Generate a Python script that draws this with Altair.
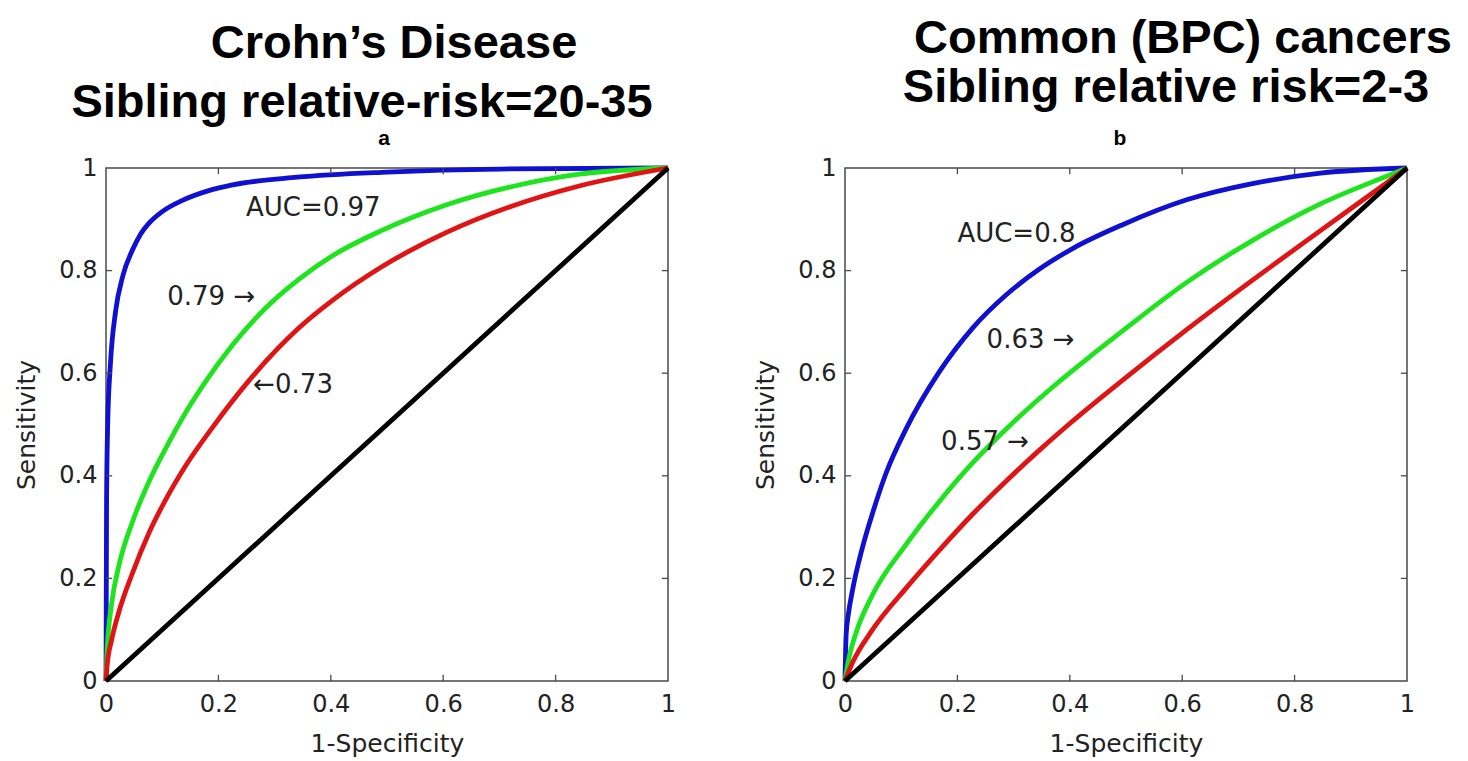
import altair as alt
import pandas as pd

TITLE_FONT = "Liberation Sans"
TEXT_FONT = "DejaVu Sans"

# ---- Panel a: Crohn's disease ----
a_blue_fpr = [0, 0.001, 0.003, 0.008, 0.017, 0.03, 0.047, 0.062, 0.077, 0.1, 0.136, 0.18, 0.225, 0.34, 0.5, 0.7, 1.0]
a_blue_tpr = [0, 0.35, 0.5, 0.62, 0.72, 0.79, 0.84, 0.872, 0.893, 0.915, 0.937, 0.955, 0.967, 0.982, 0.992, 0.998, 1.0]

a_green_fpr = [0, 0.002, 0.01, 0.023, 0.047, 0.077, 0.107, 0.14, 0.175, 0.225, 0.284, 0.343, 0.403, 0.49, 0.605, 0.723, 0.842, 1.0]
a_green_tpr = [0, 0.06, 0.15, 0.225, 0.31, 0.39, 0.455, 0.52, 0.58, 0.655, 0.727, 0.783, 0.829, 0.878, 0.928, 0.964, 0.988, 1.0]

a_red_fpr = [0, 0.002, 0.01, 0.023, 0.047, 0.077, 0.107, 0.142, 0.19, 0.254, 0.343, 0.403, 0.49, 0.605, 0.723, 0.842, 1.0]
a_red_tpr = [0, 0.03, 0.08, 0.135, 0.21, 0.29, 0.355, 0.42, 0.495, 0.585, 0.688, 0.742, 0.807, 0.874, 0.926, 0.965, 1.0]

a_note_text = ["AUC=0.97", "0.79 \u2192", "\u21900.73"]
a_note_fpr = [0.249, 0.109, 0.262]
a_note_tpr = [0.922, 0.748, 0.577]

# ---- Panel b: common (BPC) cancers ----
b_blue_fpr = [0, 0.002, 0.006, 0.013, 0.031, 0.049, 0.073, 0.108, 0.168, 0.227, 0.287, 0.346, 0.405, 0.495, 0.608, 0.727, 0.846, 1.0]
b_blue_tpr = [0, 0.09, 0.13, 0.175, 0.26, 0.327, 0.405, 0.49, 0.603, 0.688, 0.753, 0.803, 0.843, 0.89, 0.938, 0.97, 0.99, 1.0]

b_green_fpr = [0, 0.007, 0.02, 0.049, 0.108, 0.168, 0.227, 0.3, 0.377, 0.441, 0.498, 0.608, 0.727, 0.846, 0.966, 1.0]
b_green_tpr = [0, 0.045, 0.095, 0.168, 0.265, 0.35, 0.425, 0.505, 0.58, 0.637, 0.686, 0.777, 0.86, 0.93, 0.985, 1.0]

b_red_fpr = [0, 0.013, 0.049, 0.108, 0.168, 0.227, 0.287, 0.346, 0.4, 0.498, 0.608, 0.727, 0.846, 0.966, 1.0]
b_red_tpr = [0, 0.035, 0.1, 0.18, 0.255, 0.325, 0.39, 0.45, 0.502, 0.59, 0.685, 0.783, 0.878, 0.973, 1.0]

b_note_text = ["AUC=0.8", "0.63 \u2192", "0.57 \u2192"]
b_note_fpr = [0.2, 0.252, 0.171]
b_note_tpr = [0.871, 0.665, 0.466]

# chance line, shared by both panels
diag_fpr = [0, 1]
diag_tpr = [0, 1]

tick_values = [0, 0.2, 0.4, 0.6, 0.8, 1]
inner_ticks = [0.2, 0.4, 0.6, 0.8]

BLUE, GREEN, RED, BLACK = "#1010d0", "#1ee41e", "#e01414", "#000000"
FRAME = "#4a4a4a"
LABEL = "#222222"
TICK_LEN = 0.011

x_scale = alt.Scale(domain=[0, 1], nice=False, zero=False)
y_scale = alt.Scale(domain=[0, 1], nice=False, zero=False)

x_axis = alt.Axis(values=tick_values, format="~g", ticks=False, domain=False, grid=False,
                  labelFontSize=24, labelColor=LABEL, labelFont=TEXT_FONT, labelPadding=11,
                  labelFlush=False, titleFontSize=25, titleFontWeight="normal",
                  titleFont=TEXT_FONT, titleColor=LABEL, titlePadding=15)
y_axis = alt.Axis(values=tick_values, format="~g", ticks=False, domain=False, grid=False,
                  labelFontSize=24, labelColor=LABEL, labelFont=TEXT_FONT, labelPadding=9,
                  labelFlush=False, titleFontSize=25, titleFontWeight="normal",
                  titleFont=TEXT_FONT, titleColor=LABEL, titlePadding=19)


def X(field):
    return alt.X(field, type="quantitative", scale=x_scale, axis=x_axis, title="1-Specificity")


def Y(field):
    return alt.Y(field, type="quantitative", scale=y_scale, axis=y_axis, title="Sensitivity")


def curve(xs, ys, color, smooth=True):
    df = pd.DataFrame({"fpr": xs, "tpr": ys, "i": range(len(xs))})
    return alt.Chart(df).mark_line(
        color=color, strokeWidth=4.8, clip=False,
        interpolate="monotone" if smooth else "linear"
    ).encode(x=X("fpr"), y=Y("tpr"), order=alt.Order("i:Q"))


def frame_ticks():
    t = pd.DataFrame({"v": inner_ticks})
    base = alt.Chart(t).mark_rule(color=FRAME, strokeWidth=1.3)
    bottom = base.encode(x=X("v"), y=alt.datum(0), y2=alt.datum(TICK_LEN * 1.1))
    top = base.encode(x=X("v"), y=alt.datum(1), y2=alt.datum(1 - TICK_LEN * 1.1))
    left = base.encode(y=Y("v"), x=alt.datum(0), x2=alt.datum(TICK_LEN))
    right = base.encode(y=Y("v"), x=alt.datum(1), x2=alt.datum(1 - TICK_LEN))
    return [bottom, top, left, right]


def notes(texts, xs, ys):
    df = pd.DataFrame({"label": texts, "fpr": xs, "tpr": ys})
    return alt.Chart(df).mark_text(align="left", baseline="middle", font=TEXT_FONT,
                                   fontSize=26, color=LABEL).encode(
        x=X("fpr"), y=Y("tpr"), text="label:N"
    )


def heading(text, px, py, size):
    return alt.Chart(alt.Data(values=[{}])).mark_text(
        text=text, font=TITLE_FONT, fontSize=size, fontWeight="bold", align="center",
        baseline="alphabetic", color="#000000"
    ).encode(x=alt.value(px), y=alt.value(py))


def panel(curves, note_layer, headings):
    layers = [curve(xs, ys, c) for xs, ys, c in curves]
    layers.append(curve(diag_fpr, diag_tpr, BLACK, smooth=False))
    layers += frame_ticks()
    layers.append(note_layer)
    layers += headings
    return alt.layer(*layers).properties(width=562, height=513)


panel_a = panel(
    [(a_blue_fpr, a_blue_tpr, BLUE), (a_green_fpr, a_green_tpr, GREEN), (a_red_fpr, a_red_tpr, RED)],
    notes(a_note_text, a_note_fpr, a_note_tpr),
    [heading("Crohn\u2019s Disease", 288, -110, 47),
     heading("Sibling relative-risk=20-35", 256, -51, 47),
     heading("a", 278, -23, 21)],
)

panel_b = panel(
    [(b_blue_fpr, b_blue_tpr, BLUE), (b_green_fpr, b_green_tpr, GREEN), (b_red_fpr, b_red_tpr, RED)],
    notes(b_note_text, b_note_fpr, b_note_tpr),
    [heading("Common (BPC) cancers", 338, -115, 47),
     heading("Sibling relative risk=2-3", 321, -66, 47),
     heading("b", 275, -23, 21)],
)

chart = alt.hconcat(panel_a, panel_b, spacing=177, bounds="flush").configure_view(
    stroke=FRAME, strokeWidth=1.5
).properties(padding={"left": 14, "top": 14, "right": 0, "bottom": 0}, background="white")

chart.save("out.html", embed_options={"renderer": "svg", "actions": False})
